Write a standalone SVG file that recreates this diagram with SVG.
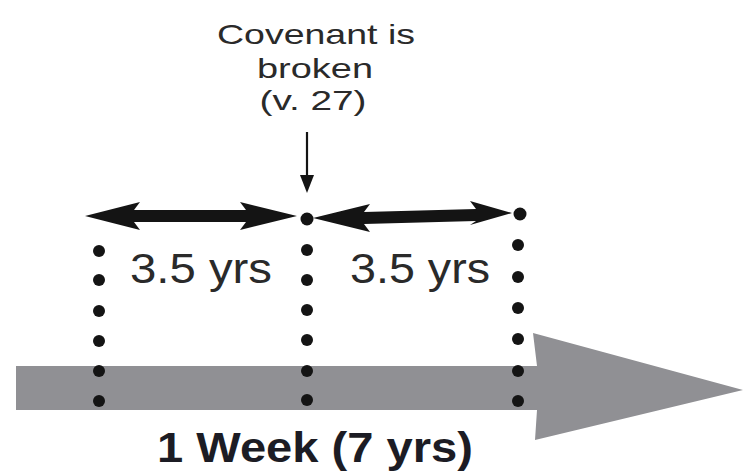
<svg xmlns="http://www.w3.org/2000/svg" width="743" height="472" viewBox="0 0 743 472">
<style>
.lbl{font-family:"Liberation Sans",Arial,sans-serif;fill:#2a2a2a;text-anchor:middle}
.dot{fill:#141414}
.dbl{fill:#141414}
</style>
<rect width="743" height="472" fill="#fff"/>
<g id="timeline">
<polygon points="16,366 537,366 533,333 743,390 535,440 537,410 16,410" fill="#909094"/>
</g>
<g id="connectors">
<polygon class="dbl" points="85,216 140,202 134,210 246,210 240,202 297,216 240,230 246,222 134,222 140,230"/>
<polygon class="dbl" points="313,218 370,204 364,212 476,209 470,201 512,213 470,225 476,221 364,224 370,232"/>
<line x1="307" y1="132" x2="307" y2="178" stroke="#141414" stroke-width="2.2"/>
<polygon points="300,175 314,175 307,193" fill="#141414"/>
</g>
<g id="dots-left">
<circle class="dot" cx="99" cy="251" r="6"/>
<circle class="dot" cx="99" cy="280" r="6"/>
<circle class="dot" cx="99" cy="311" r="6"/>
<circle class="dot" cx="99" cy="341" r="6"/>
<circle class="dot" cx="99" cy="371" r="6"/>
<circle class="dot" cx="99" cy="401" r="6"/>
</g>
<g id="dots-middle">
<circle class="dot" cx="307" cy="219" r="6.5"/>
<circle class="dot" cx="307" cy="250" r="6"/>
<circle class="dot" cx="307" cy="280" r="6"/>
<circle class="dot" cx="307" cy="310" r="6"/>
<circle class="dot" cx="307" cy="340" r="6"/>
<circle class="dot" cx="307" cy="371" r="6"/>
<circle class="dot" cx="307" cy="400" r="6"/>
</g>
<g id="dots-right">
<circle class="dot" cx="520" cy="214" r="6.5"/>
<circle class="dot" cx="518" cy="245" r="6"/>
<circle class="dot" cx="518" cy="277" r="6"/>
<circle class="dot" cx="518" cy="308" r="6"/>
<circle class="dot" cx="518" cy="339" r="6"/>
<circle class="dot" cx="518" cy="371" r="6"/>
<circle class="dot" cx="518" cy="401" r="6"/>
</g>
<g id="covenant-label">
<text class="lbl" x="316" y="44" font-size="28" textLength="198" lengthAdjust="spacingAndGlyphs">Covenant is</text>
<text class="lbl" x="315" y="78" font-size="28" textLength="116" lengthAdjust="spacingAndGlyphs">broken</text>
<text class="lbl" x="313" y="110" font-size="28" textLength="107" lengthAdjust="spacingAndGlyphs">(v. 27)</text>
</g>
<g id="span-labels">
<text class="lbl" x="201" y="283" font-size="43" textLength="142" lengthAdjust="spacingAndGlyphs">3.5 yrs</text>
<text class="lbl" x="420" y="283" font-size="43" textLength="140" lengthAdjust="spacingAndGlyphs">3.5 yrs</text>
</g>
<g id="week-label">
<text class="lbl" x="315" y="462" font-size="42" font-weight="bold" textLength="316" lengthAdjust="spacingAndGlyphs" style="fill:#1c1c24">1 Week (7 yrs)</text>
</g>
</svg>
